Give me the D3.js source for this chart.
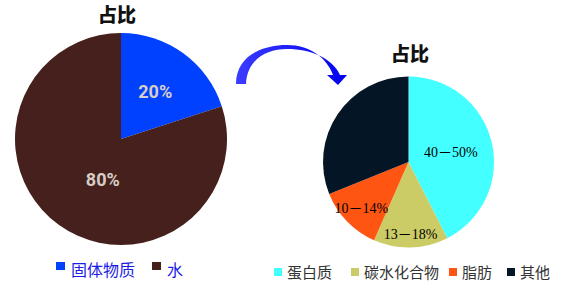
<!DOCTYPE html>
<html>
<head>
<meta charset="utf-8">
<script src="https://cdn.jsdelivr.net/npm/d3@7"></script>
<style>
  body { margin: 0; background: #fff; }
  svg { display: block; }
</style>
</head>
<body>
<script>
// data
var leftCats = ["固体物质", "水"];
var leftVals = [20, 80];
var leftLabels = ["20%", "80%"];
var leftColors = ["#0040ff", "#45201d"];

var rightCats = ["蛋白质", "碳水化合物", "脂肪", "其他"];
var rightVals = [42.5, 14.1, 12.3, 31.1];
var rightLabels = ["40－50%", "13－18%", "10－14%", ""];
var rightColors = ["#44ffff", "#cccc66", "#ff5512", "#041525"];

var title = "占比";

var width = 564, height = 289;
var cjk = "'Noto Sans CJK SC', 'Noto Sans', sans-serif";

var svg = d3.select("body").append("svg")
            .attr("width", width)
            .attr("height", height);

var pie = d3.pie().sort(null).value(function(d) { return d; });

// left pie
var leftR = 106;
var gl = svg.append("g").attr("transform", "translate(121,139)");
var arcL = d3.arc().innerRadius(0).outerRadius(leftR);
var leftLabelR = [0.55, 0.42];

gl.selectAll("path")
  .data(pie(leftVals))
  .enter()
  .append("path")
  .attr("d", arcL)
  .attr("fill", function(d, i) { return leftColors[i]; });

gl.selectAll("text.lbl")
  .data(pie(leftVals))
  .enter()
  .append("text")
  .attr("class", "lbl")
  .attr("transform", function(d, i) {
    var r = leftR * leftLabelR[i];
    var c = d3.arc().innerRadius(r).outerRadius(r).centroid(d);
    // the big slice's label sits a little towards the centre line
    if (i == 1) { c[0] += 8; c[1] += 4; }
    return "translate(" + c + ")";
  })
  .attr("text-anchor", "middle")
  .attr("dy", "0.36em")
  .style("font-family", "Roboto, 'Liberation Sans', sans-serif")
  .style("font-weight", "bold")
  .style("font-size", "18px")
  .style("fill", "#d6cec6")
  .text(function(d, i) { return leftLabels[i]; });

svg.append("text")
   .attr("x", 117).attr("y", 22)
   .attr("text-anchor", "middle")
   .style("font-family", cjk)
   .style("font-weight", "900")
   .style("font-size", "19px")
   .style("fill", "#111")
   .text(title);

// left legend
var legL = [56, 152];
leftCats.forEach(function(c, i) {
  svg.append("rect")
     .attr("x", legL[i]).attr("y", 262)
     .attr("width", 9).attr("height", 8)
     .attr("fill", leftColors[i]);
  svg.append("text")
     .attr("x", legL[i] + 15).attr("y", 276)
     .style("font-family", cjk)
     .style("font-size", "16px")
     .style("fill", "#1c1ce6")
     .text(c);
});

// right pie
var rightR = 85.5;
var gr = svg.append("g").attr("transform", "translate(408.5,162)");
var arcR = d3.arc().innerRadius(0).outerRadius(rightR);
var rightLabelR = [0.51, 0.83, 0.77, 0.5];

gr.selectAll("path")
  .data(pie(rightVals))
  .enter()
  .append("path")
  .attr("d", arcR)
  .attr("fill", function(d, i) { return rightColors[i]; });

gr.selectAll("text.lbl")
  .data(pie(rightVals))
  .enter()
  .append("text")
  .attr("class", "lbl")
  .attr("transform", function(d, i) {
    var r = rightR * rightLabelR[i];
    return "translate(" + d3.arc().innerRadius(r).outerRadius(r).centroid(d) + ")";
  })
  .attr("text-anchor", "middle")
  .attr("dy", "0.4em")
  .style("font-family", "'Liberation Serif', 'Noto Sans CJK SC', serif")
  .style("font-size", "14px")
  .style("fill", "#000")
  .text(function(d, i) { return rightLabels[i]; });

svg.append("text")
   .attr("x", 410).attr("y", 61)
   .attr("text-anchor", "middle")
   .style("font-family", cjk)
   .style("font-weight", "900")
   .style("font-size", "19px")
   .style("fill", "#111")
   .text(title);

// right legend
var legR = [274, 351, 449, 507];
rightCats.forEach(function(c, i) {
  svg.append("rect")
     .attr("x", legR[i]).attr("y", 268)
     .attr("width", 8).attr("height", 8)
     .attr("fill", rightColors[i]);
  svg.append("text")
     .attr("x", legR[i] + 13).attr("y", 278)
     .style("font-family", cjk)
     .style("font-size", "15px")
     .style("fill", "#333")
     .text(c);
});

// curved arrow between the two pies
var grad = svg.append("defs").append("linearGradient")
              .attr("id", "arrowGrad")
              .attr("x1", "0%").attr("x2", "100%")
              .attr("y1", "0%").attr("y2", "0%");
grad.append("stop").attr("offset", "0%").attr("stop-color", "#3c3cff");
grad.append("stop").attr("offset", "100%").attr("stop-color", "#0000f0");

var p = d3.path();
p.moveTo(236, 84);
p.bezierCurveTo(236, 56, 262, 45, 287, 45);
p.bezierCurveTo(310, 45, 327, 58, 333, 75);
p.lineTo(327, 75);
p.lineTo(338, 85);
p.lineTo(347, 75);
p.lineTo(340, 75);
p.bezierCurveTo(333, 59, 312, 49, 287, 49);
p.bezierCurveTo(266, 49, 247, 60, 246, 84);
p.closePath();

svg.append("path")
   .attr("d", p.toString())
   .attr("fill", "url(#arrowGrad)");
</script>
</body>
</html>
